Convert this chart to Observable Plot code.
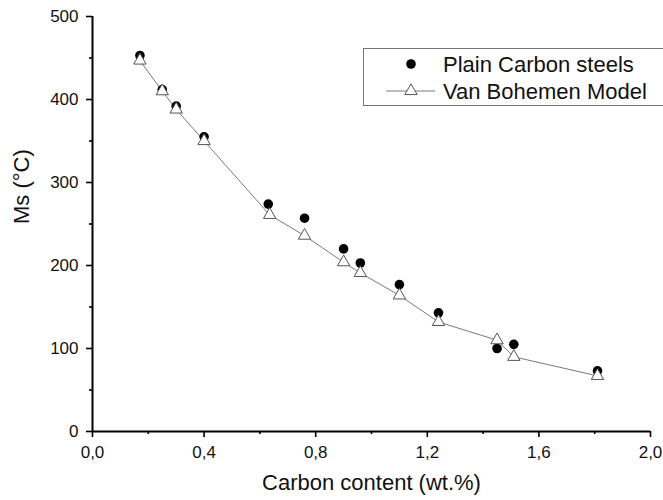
<!DOCTYPE html>
<html>
<head>
<meta charset="utf-8">
<script src="https://cdn.jsdelivr.net/npm/d3@7"></script>
<script src="https://cdn.jsdelivr.net/npm/@observablehq/plot@0.6"></script>
<style>
  html, body { margin: 0; padding: 0; background: #fff; }
  #chart svg { display: block; }
</style>
</head>
<body>
<div id="chart"></div>
<script>
// Data
const carbonExp = [0.17, 0.25, 0.30, 0.40, 0.63, 0.76, 0.90, 0.96, 1.10, 1.24, 1.45, 1.51, 1.81];
const msExp     = [453, 412, 392, 355, 274, 257, 220, 203, 177, 143, 100, 105, 73];
const carbonModel = [0.17, 0.25, 0.30, 0.40, 0.635, 0.76, 0.90, 0.96, 1.10, 1.24, 1.45, 1.51, 1.81];
const msModel     = [447, 410, 388, 350, 261, 236, 204, 191, 164, 132, 110, 90, 67];
const xMajorTicks = [0, 0.4, 0.8, 1.2, 1.6, 2.0];
const xMinorTicks = [0.2, 0.6, 1.0, 1.4, 1.8];
const yMajorTicks = [0, 100, 200, 300, 400, 500];
const yMinorTicks = [50, 150, 250, 350, 450];
const seriesNames = ["Plain Carbon steels", "Van Bohemen Model"];
const xTitle = "Carbon content (wt.%)";
const yTitle = "Ms (°C)";

const expData = carbonExp.map((c, i) => ({c, ms: msExp[i]}));
const modelData = carbonModel.map((c, i) => ({c, ms: msModel[i]}));

const font = "'Liberation Sans', Arial, sans-serif";
const fmt = d => d3.format(".1f")(d).replace(".", ",");

const chart = Plot.plot({
  width: 663,
  height: 500,
  marginLeft: 92,
  marginRight: 13,
  marginTop: 16,
  marginBottom: 69,
  style: {fontFamily: font, fontSize: "17px", color: "#000", background: "#fff"},
  x: {domain: [0, 2]},
  y: {domain: [0, 500]},
  marks: [
    Plot.axisX(xMajorTicks, {tickSize: 6, tickPadding: 8, strokeWidth: 1.6, tickFormat: fmt, label: null, fontSize: 17, fill: "#111"}),
    Plot.axisX(xMinorTicks, {tickSize: 3, strokeWidth: 1.6, tickFormat: () => "", label: null}),
    Plot.axisY(yMajorTicks, {tickSize: 6, tickPadding: 8, strokeWidth: 1.6, label: null, fontSize: 17, fill: "#111"}),
    Plot.axisY(yMinorTicks, {tickSize: 3, strokeWidth: 1.6, tickFormat: () => "", label: null}),
    Plot.ruleY([0], {stroke: "#000", strokeWidth: 2}),
    Plot.ruleX([0], {stroke: "#000", strokeWidth: 2}),
    Plot.line(modelData, {x: "c", y: "ms", stroke: "#7a7a7a", strokeWidth: 1}),
    Plot.dot(expData, {x: "c", y: "ms", r: 4.8, fill: "#000", stroke: "none"}),
    Plot.dot(modelData, {x: "c", y: "ms", symbol: "triangle", r: 4.6, fill: "#fff", stroke: "#555", strokeWidth: 1}),
    Plot.text([xTitle], {frameAnchor: "bottom", dy: 58, fontSize: 22, fill: "#111", text: d => d}),
    Plot.text([yTitle], {frameAnchor: "left", dx: -71, rotate: -90, fontSize: 22, fill: "#111", text: d => d})
  ]
});

document.getElementById("chart").appendChild(chart);

// Legend box (drawn inside the same SVG)
const svg = d3.select(chart);
const lg = svg.append("g").attr("font-family", font).attr("font-size", 22)
  .attr("fill", "#111").attr("text-anchor", "start");
lg.append("rect").attr("x", 363.5).attr("y", 48.5).attr("width", 330).attr("height", 57)
  .attr("fill", "#fff").attr("stroke", "#777").attr("stroke-width", 1);
lg.append("circle").attr("cx", 411).attr("cy", 64).attr("r", 4.8).attr("fill", "#000");
lg.append("line").attr("x1", 386).attr("x2", 435).attr("y1", 91).attr("y2", 91)
  .attr("stroke", "#7a7a7a").attr("stroke-width", 1);
lg.append("path").attr("d", d3.symbol(d3.symbolTriangle, Math.PI * 4.6 * 4.6)())
  .attr("transform", "translate(411,91)").attr("fill", "#fff").attr("stroke", "#555");
lg.append("text").attr("x", 443).attr("y", 64).attr("dy", "0.35em").text(seriesNames[0]);
lg.append("text").attr("x", 443).attr("y", 91).attr("dy", "0.35em").text(seriesNames[1]);
</script>
</body>
</html>
